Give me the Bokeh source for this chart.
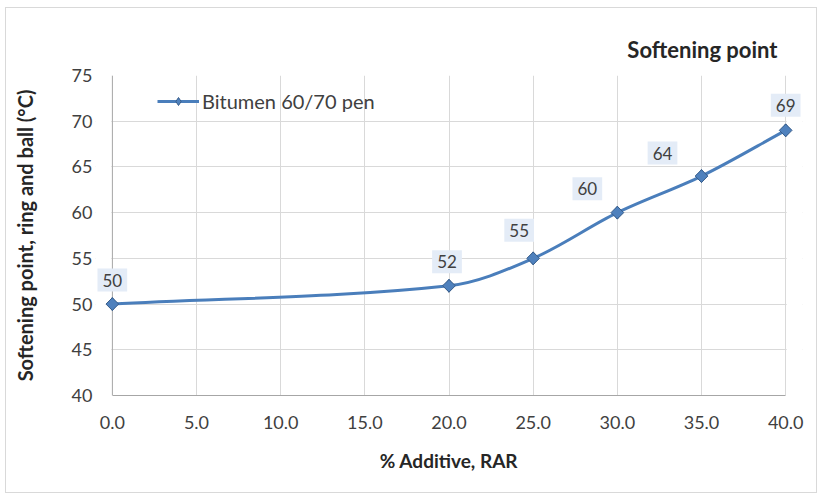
import numpy as np
from bokeh.plotting import figure
from bokeh.models import (ColumnDataSource, Range1d, FixedTicker, NumeralTickFormatter,
                          Legend, LegendItem, Label, BoxAnnotation, Span, Title)
from bokeh.embed import file_html
from bokeh.resources import INLINE

# ---- data ----
additive = [0.0, 20.0, 25.0, 30.0, 35.0, 40.0]
softening = [50, 52, 55, 60, 64, 69]
series_name = "Bitumen 60/70 pen"
chart_title = "Softening point"
x_ticks = [0, 5, 10, 15, 20, 25, 30, 35, 40]
y_ticks = [40, 45, 50, 55, 60, 65, 70, 75]

# ---- label offsets (pixels, style only) ----
label_dx = [0, -2, -14, -30, -39, 0]
label_dy = [24, 24, 28, 24, 23, 25]

FONT = "Lato"
BLUE = "#4a7ebb"
SX, SY = 16.825, 9.14   # px per data unit (used only for curve smoothing aspect)

# smoothed line: cubic Bezier segments with tangents from neighbouring points
xs = np.array(additive, dtype=float) * SX
ys = np.array(softening, dtype=float) * SY
n = len(xs)
tx, ty = np.zeros(n), np.zeros(n)
for i in range(n):
    a = max(i - 1, 0)
    b = min(i + 1, n - 1)
    dx, dy = xs[b] - xs[a], ys[b] - ys[a]
    L = np.hypot(dx, dy)
    tx[i], ty[i] = dx / L, dy / L
seg = dict(x0=[], y0=[], x1=[], y1=[], cx0=[], cy0=[], cx1=[], cy1=[])
for i in range(n - 1):
    L = np.hypot(xs[i + 1] - xs[i], ys[i + 1] - ys[i]) / 3.0
    seg["x0"].append(xs[i] / SX); seg["y0"].append(ys[i] / SY)
    seg["x1"].append(xs[i + 1] / SX); seg["y1"].append(ys[i + 1] / SY)
    seg["cx0"].append((xs[i] + tx[i] * L) / SX)
    seg["cy0"].append((ys[i] + ty[i] * L) / SY)
    seg["cx1"].append((xs[i + 1] - tx[i + 1] * L) / SX)
    seg["cy1"].append((ys[i + 1] - ty[i + 1] * L) / SY)
seg_src = ColumnDataSource(seg)
pt_src = ColumnDataSource(dict(x=additive, y=softening))

p = figure(width=812, height=486, x_range=Range1d(-1, 41), y_range=Range1d(40, 75),
           output_backend="svg", toolbar_location=None,
           min_border_left=89, min_border_right=16, min_border_top=67, min_border_bottom=99)
p.styles = {"border": "1px solid #d9d9d9", "margin": "7px 0 0 5px"}
p.outline_line_color = None
p.background_fill_color = "white"
p.border_fill_color = "white"

p.title = Title(text=chart_title, align="right", offset=25, standoff=26,
                text_font=FONT, text_font_size="22px", text_font_style="bold",
                text_color="#262626")

p.grid.grid_line_color = "#d9d9d9"
p.grid.grid_line_width = 1
p.xaxis.ticker = FixedTicker(ticks=x_ticks)
p.yaxis.ticker = FixedTicker(ticks=y_ticks)
p.xaxis.formatter = NumeralTickFormatter(format="0.0")
p.xgrid.ticker = FixedTicker(ticks=x_ticks)
p.ygrid.ticker = FixedTicker(ticks=y_ticks)
p.xaxis.bounds = (0, 40)
p.yaxis.bounds = (40, 75)

# vertical axis line at x = 0
p.add_layout(Span(location=0, dimension="height", line_color="#a6a6a6",
                  line_width=1, level="underlay"))
# blank out grid line overhang outside the 0-40 plot box
for kw in (dict(right=-0.06), dict(left=40.06)):
    p.add_layout(BoxAnnotation(**kw, fill_color="white", fill_alpha=1.0,
                               line_alpha=0, level="underlay"))

for ax in (p.xaxis[0], p.yaxis[0]):
    ax.axis_line_color = "#a6a6a6"
    ax.major_tick_line_color = None
    ax.minor_tick_line_color = None
    ax.major_label_text_font = FONT
    ax.major_label_text_font_size = "18px"
    ax.major_label_text_color = "#404040"
    ax.axis_label_text_font = FONT
    ax.axis_label_text_font_style = "bold"
    ax.axis_label_text_font_size = "20px"
    ax.axis_label_text_color = "#262626"
p.yaxis.axis_line_color = None
p.yaxis.major_tick_out = 0
p.yaxis.major_tick_in = 0
p.xaxis.axis_label_text_font_size = "19px"

p.xaxis.axis_label = "% Additive, RAR"
p.yaxis.axis_label = "Softening point, ring and ball (°C)"
p.xaxis.major_label_standoff = 14
p.yaxis.major_label_standoff = 3
p.xaxis.axis_label_standoff = 17
p.yaxis.axis_label_standoff = 32

bz = p.bezier(x0="x0", y0="y0", x1="x1", y1="y1", cx0="cx0", cy0="cy0", cx1="cx1", cy1="cy1",
              source=seg_src, line_color=BLUE, line_width=3)
# diamond used for the legend symbol (hidden beneath the plotted markers)
lg = p.scatter(x="x", y="y", source=pt_src, marker="diamond", size=13,
               fill_color="#4f81bd", line_color="#385d8a", line_width=1)
sc = p.scatter(x="x", y="y", source=pt_src, marker="square", size=9, angle=np.pi / 4,
               fill_color="#4f81bd", line_color="#385d8a", line_width=1)

legend = Legend(items=[LegendItem(label=series_name, renderers=[bz, lg])],
                location=(62, 282), orientation="vertical")
legend.border_line_alpha = 0
legend.background_fill_alpha = 0
legend.padding = 0
legend.margin = 0
legend.spacing = 0
legend.glyph_width = 42
legend.glyph_height = 20
legend.label_standoff = 3
legend.label_text_font = FONT
legend.label_text_font_size = "20px"
legend.label_text_color = "#404040"
p.add_layout(legend, "center")

for xv, yv, dx, dy in zip(additive, softening, label_dx, label_dy):
    p.add_layout(Label(x=xv, y=yv, x_offset=dx, y_offset=dy, text=str(yv),
                       text_font=FONT, text_font_size="17px", text_color="#404040",
                       text_align="center", text_baseline="middle",
                       background_fill_color="#e4ecf7", background_fill_alpha=1.0,
                       padding=5))

open("out.html", "w").write(file_html(p, INLINE))
